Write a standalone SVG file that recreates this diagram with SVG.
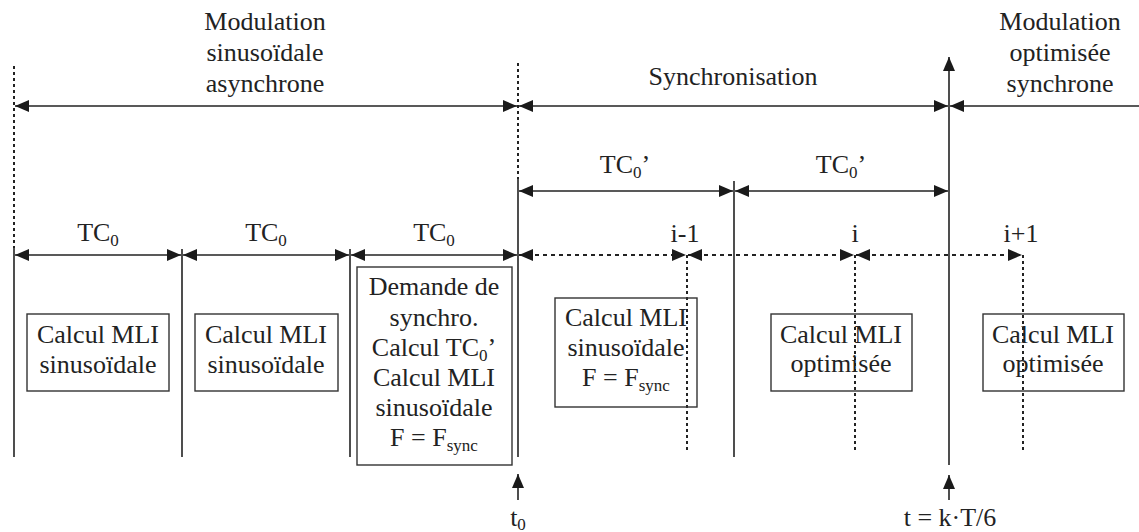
<svg xmlns="http://www.w3.org/2000/svg" width="1139" height="532" viewBox="0 0 1139 532">
<style>
text{font-family:'Liberation Serif',Tinos,'DejaVu Serif',serif;font-size:26px;fill:#222;text-anchor:middle}
.sub{font-size:17px}
.ln{stroke:#222;stroke-width:1.6;fill:none}
.dot{stroke:#222;stroke-width:2;fill:none;stroke-dasharray:3 3}
.dh{stroke:#222;stroke-width:2;fill:none;stroke-dasharray:4 4}
.box{fill:none;stroke:#333;stroke-width:1.4}
.a2{marker-start:url(#ah);marker-end:url(#ah)}
.a1{marker-end:url(#ah)}
</style>
<defs>
<marker id="ah" markerUnits="userSpaceOnUse" markerWidth="15" markerHeight="12" refX="14" refY="6" orient="auto-start-reverse" viewBox="0 0 15 12">
<path d="M0,0 L14,6 L0,12 z" fill="#1a1a1a"/>
</marker>
</defs>
<rect width="1139" height="532" fill="#fff"/>
<g id="connectors">
<line class="dot" x1="14" y1="66" x2="14" y2="248"/>
<line class="ln" x1="14" y1="248" x2="14" y2="457"/>
<line class="dot" x1="518" y1="63" x2="518" y2="179"/>
<line class="ln" x1="518" y1="179" x2="518" y2="457"/>
<line class="ln" x1="182" y1="249" x2="182" y2="457"/>
<line class="ln" x1="350" y1="249" x2="350" y2="457"/>
<line class="ln" x1="734" y1="181" x2="734" y2="457"/>
<line class="ln a1" x1="949" y1="465" x2="949" y2="57"/>
<line class="dot" x1="687" y1="255" x2="687" y2="452"/>
<line class="dot" x1="855" y1="255" x2="855" y2="452"/>
<line class="dot" x1="1023" y1="255" x2="1023" y2="452"/>
<line class="ln a2" x1="15" y1="106" x2="517" y2="106"/>
<line class="ln a2" x1="519" y1="106" x2="948" y2="106"/>
<line class="ln a1" x1="1139" y1="106" x2="950" y2="106"/>
<line class="ln a2" x1="519" y1="191" x2="733" y2="191"/>
<line class="ln a2" x1="735" y1="191" x2="948" y2="191"/>
<line class="ln a2" x1="15" y1="255" x2="181" y2="255"/>
<line class="ln a2" x1="183" y1="255" x2="349" y2="255"/>
<line class="ln a2" x1="351" y1="255" x2="517" y2="255"/>
<line class="dh a2" x1="519" y1="255" x2="686" y2="255"/>
<line class="dh a2" x1="688" y1="255" x2="854" y2="255"/>
<line class="dh a2" x1="856" y1="255" x2="1022" y2="255"/>
<line class="ln a1" x1="518" y1="500" x2="518" y2="474"/>
<line class="ln a1" x1="949" y1="500" x2="949" y2="475"/>
</g>
<g id="labels" font-family="Liberation Serif, serif">
<text x="265" y="30">Modulation</text>
<text x="265" y="61">sinusoïdale</text>
<text x="265" y="92">asynchrone</text>
<text x="733" y="85">Synchronisation</text>
<text x="1060" y="30">Modulation</text>
<text x="1060" y="61">optimisée</text>
<text x="1060" y="92">synchrone</text>
<text x="625" y="173">TC<tspan class="sub" dy="5">0</tspan><tspan dy="-5">’</tspan></text>
<text x="841" y="173">TC<tspan class="sub" dy="5">0</tspan><tspan dy="-5">’</tspan></text>
<text x="98" y="241">TC<tspan class="sub" dy="5">0</tspan></text>
<text x="266" y="241">TC<tspan class="sub" dy="5">0</tspan></text>
<text x="434" y="241">TC<tspan class="sub" dy="5">0</tspan></text>
<text x="685" y="242">i-1</text>
<text x="855" y="242">i</text>
<text x="1021" y="242">i+1</text>
<text x="518" y="526">t<tspan class="sub" dy="4">0</tspan></text>
<text x="950" y="526">t = k·T/6</text>
</g>
<g id="box1">
<rect class="box" x="27" y="314" width="142" height="77"/>
<text x="98" y="343">Calcul MLI</text>
<text x="98" y="373">sinusoïdale</text>
</g>
<g id="box2">
<rect class="box" x="195" y="314" width="143" height="77"/>
<text x="266" y="343">Calcul MLI</text>
<text x="266" y="373">sinusoïdale</text>
</g>
<g id="box3">
<rect class="box" x="357" y="267" width="155" height="198"/>
<text x="434" y="295">Demande de</text>
<text x="434" y="326">synchro.</text>
<text x="434" y="356">Calcul TC<tspan class="sub" dy="5">0</tspan><tspan dy="-5">’</tspan></text>
<text x="434" y="386">Calcul MLI</text>
<text x="434" y="416">sinusoïdale</text>
<text x="434" y="446">F = F<tspan class="sub" dy="5">sync</tspan></text>
</g>
<g id="box4">
<rect class="box" x="555" y="298" width="142" height="109"/>
<text x="626" y="326">Calcul MLI</text>
<text x="626" y="356">sinusoïdale</text>
<text x="626" y="386">F = F<tspan class="sub" dy="5">sync</tspan></text>
</g>
<g id="box5">
<rect class="box" x="771" y="314" width="141" height="77"/>
<text x="841" y="343">Calcul MLI</text>
<text x="841" y="372">optimisée</text>
</g>
<g id="box6">
<rect class="box" x="983" y="314" width="141" height="77"/>
<text x="1053" y="343">Calcul MLI</text>
<text x="1053" y="372">optimisée</text>
</g>
</svg>
